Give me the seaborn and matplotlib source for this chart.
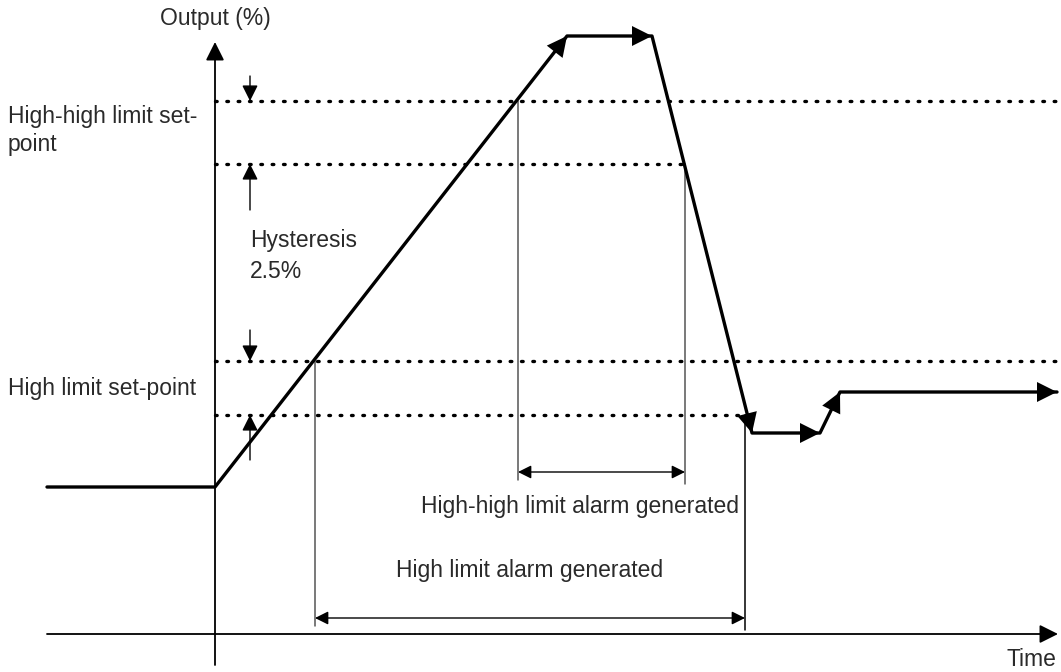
import matplotlib
matplotlib.use("Agg")
import matplotlib.pyplot as plt
import seaborn as sns
import numpy as np

# Diagram drawn in a pixel-like coordinate space (y grows downward)
signal_x = [47, 215, 567, 652, 752, 820, 840, 1057]
signal_y = [487, 487, 36, 36, 433, 433, 392, 392]
# segments of the signal that end in an arrowhead (index of segment start)
arrow_segments = [1, 2, 3, 4, 5, 6]

levels_y = [101, 164, 361, 415]
levels_x_end = [1061, 685, 1061, 750]

hyst_x = 250
hyst_tails = [76, 210, 330, 460]

alarm_starts = [518, 315]
alarm_ends = [685, 745]
alarm_top = [101, 361]
alarm_top_end = [164, 415]
alarm_arrow_y = [472, 618]
alarm_labels = ["High-high limit alarm generated", "High limit alarm generated"]

sns.set_theme(style="white")
plt.rcParams['font.family'] = ['Liberation Sans', 'DejaVu Sans']

fig = plt.figure(figsize=(10.61, 6.72), dpi=100)
ax = fig.add_axes([0, 0, 1, 1])
ax.set_xlim(0, 1061)
ax.set_ylim(672, 0)
ax.axis("off")

txt = dict(fontsize=16.5, color="#2a2a2a")

# axes
ax.annotate("", xy=(215, 42), xytext=(215, 665),
            arrowprops=dict(arrowstyle="-|>", color="black", lw=1.3,
                            mutation_scale=28, shrinkA=0, shrinkB=0))
ax.annotate("", xy=(1058, 634), xytext=(47, 634),
            arrowprops=dict(arrowstyle="-|>", color="black", lw=1.3,
                            mutation_scale=28, shrinkA=0, shrinkB=0))
ax.text(215, 18, "Output (%)", ha="center", va="center", **txt)
ax.text(1056, 660, "Time", ha="right", va="center", **txt)

# dotted limit lines
for y, xe in zip(levels_y, levels_x_end):
    ax.plot([215, xe], [y, y], color="black", lw=2.4, linestyle=(0, (0.5, 2.9)),
            dash_capstyle="round")

# hysteresis arrows
for y, yt in zip(levels_y, hyst_tails):
    ax.annotate("", xy=(hyst_x, y), xytext=(hyst_x, yt),
                arrowprops=dict(arrowstyle="-|>", color="black", lw=1.0,
                                mutation_scale=24, shrinkA=0, shrinkB=0))
ax.text(8, 116, "High-high limit set-", ha="left", va="center", **txt)
ax.text(8, 145, "point", ha="left", va="center", **txt)
ax.text(8, 388, "High limit set-point", ha="left", va="center", **txt)
ax.text(250, 241, "Hysteresis", ha="left", va="center", **txt)
ax.text(250, 272, "2.5%", ha="left", va="center", **txt)

# alarm windows
for xs, xe, yt, yte, ya in zip(alarm_starts, alarm_ends, alarm_top, alarm_top_end,
                               alarm_arrow_y):
    ax.plot([xs, xs], [yt, ya + 8], color="#555555", lw=1.1)
    ax.plot([xe, xe], [yte, ya + 12], color="black" if xe == 745 else "#555555", lw=1.1)
    ax.annotate("", xy=(xe, ya), xytext=(xs, ya),
                arrowprops=dict(arrowstyle="<|-|>", color="black", lw=1.0,
                                mutation_scale=20, shrinkA=0, shrinkB=0))
ax.text(580, 506, alarm_labels[0], ha="center", va="center", **txt)
ax.text(530, 570, alarm_labels[1], ha="center", va="center", **txt)

# signal
sns.lineplot(x=signal_x, y=signal_y, sort=False, estimator=None, color="black",
             lw=2.4, ax=ax, legend=False)
for i in arrow_segments:
    ax.annotate("", xy=(signal_x[i + 1], signal_y[i + 1]),
                xytext=(signal_x[i], signal_y[i]),
                arrowprops=dict(arrowstyle="-|>", color="black", lw=0,
                                mutation_scale=36, shrinkA=0, shrinkB=0))

fig.savefig("out.png", dpi=100, facecolor="white")
